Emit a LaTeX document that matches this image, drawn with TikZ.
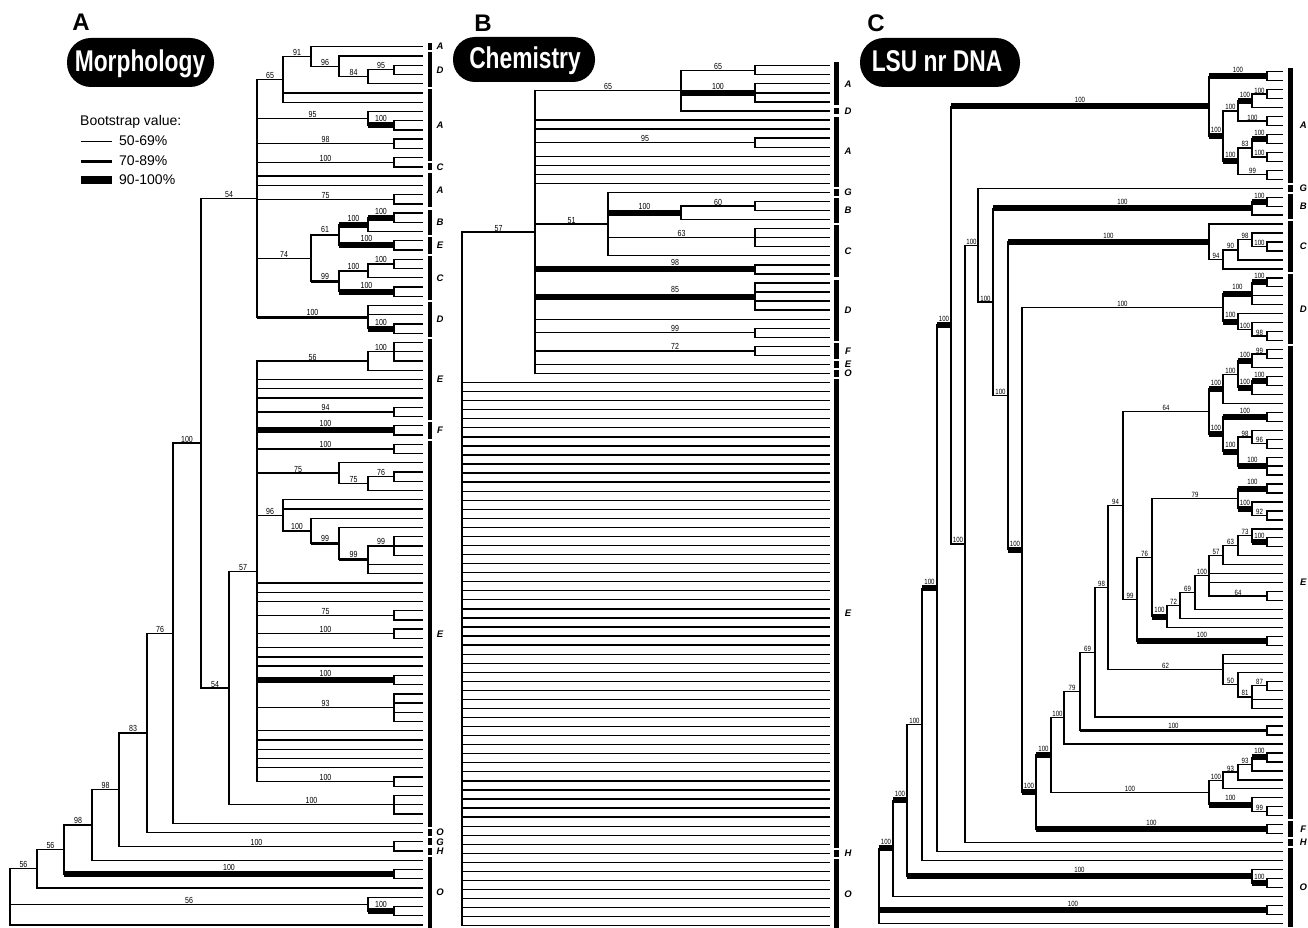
\documentclass[tikz,border=0pt]{standalone}
\usepackage{fontspec}
\setmainfont{Liberation Sans}
\newfontfamily\numfont[FakeStretch=0.8]{Liberation Sans}
\newfontfamily\titlefont[FakeStretch=0.76]{Liberation Sans}
\newcommand\labfont{\numfont\fontsize{8.8}{8.8}\selectfont}
\tikzset{
  tl/.style={line width=1.3pt, line cap=rect},
  tm/.style={line width=2.8pt, line cap=butt},
  tk/.style={line width=6pt, line cap=butt},
  lab/.style={anchor=south, inner sep=0pt, font=\labfont},
  glab/.style={inner sep=0pt, font=\fontsize{9.5}{9.5}\selectfont\bfseries\itshape},
  pill/.style={fill=black, rounded corners=22pt}
}
\newcommand\Lbl[6]{\if\relax\detokenize{#1}\relax\node[lab,yshift=#6] at ({(#2+#3)/2},#4) {#5};\else\node[lab,yshift=#6] at (#1,#4) {#5};\fi}
\newcommand\Hb[5][]{\draw[tl] (#2,#4) -- (#3,#4);\Lbl{#1}{#2}{#3}{#4}{#5}{0.7pt}}
\newcommand\Hbm[5][]{\draw[tm] (#2,#4) -- (#3,#4);\Lbl{#1}{#2}{#3}{#4}{#5}{1.8pt}}
\newcommand\Hbk[5][]{\draw[tk] (#2,#4) -- (#3,#4);\Lbl{#1}{#2}{#3}{#4}{#5}{3.3pt}}
\newcommand\Vb[3]{\draw[tl] (#1,#2) -- (#1,#3);}
\newcommand\Lf[2]{\draw[tl] (#1,#2) -- (\XE,#2);}
\newcommand\Lfs[3]{\foreach \k in {#2,...,#3} {\Lf{#1}{\k}}}
\newcommand\Ch[3]{\draw[tl] (\XE,#2) -- (#1,#2) -- (#1,#3) -- (\XE,#3);}
\newcommand\Grp[4]{\fill ({\GX},{#1-0.38}) rectangle ({\GX+4.8},{#2+0.38});\node[glab] at ({\GX+#4},{(#1+#2)/2}) {#3};}
\begin{document}
\begin{tikzpicture}[x=1pt,y=-1pt]
\fill[white] (0,0) rectangle (1308,928);
\useasboundingbox (0,0) rectangle (1308,928);
% ---------- headers ----------
\node[font=\fontsize{24}{24}\selectfont\bfseries] at (81,22) {A};
\node[font=\fontsize{24}{24}\selectfont\bfseries] at (483,23) {B};
\node[font=\fontsize{24}{24}\selectfont\bfseries] at (876,23) {C};
\fill[pill,rounded corners=24pt] (67,38) rectangle (214,87);
\node[anchor=base,text=white,font=\titlefont\fontsize{30}{30}\selectfont\bfseries] at (140,71.5) {Morphology};
\fill[pill] (453,37) rectangle (595,82);
\node[anchor=base,text=white,font=\titlefont\fontsize{30}{30}\selectfont\bfseries] at (525,68.5) {Chemistry};
\fill[pill,rounded corners=24pt] (860,38) rectangle (1020,87);
\node[anchor=base,text=white,font=\titlefont\fontsize{30}{30}\selectfont\bfseries] at (937,71.5) {LSU nr DNA};
% legend
\node[anchor=base west,inner sep=0pt,font=\fontsize{14}{14}\selectfont] at (80,126) {Bootstrap value:};
\draw[line width=1.6pt] (80.5,141.5) -- (111.5,141.5);
\draw[line width=3pt] (80.5,161.5) -- (111.5,161.5);
\draw[line width=8pt] (80.5,180.5) -- (111.5,180.5);
\node[anchor=base west,inner sep=0pt,font=\fontsize{14}{14}\selectfont] at (119,145.5) {50-69\%};
\node[anchor=base west,inner sep=0pt,font=\fontsize{14}{14}\selectfont] at (119,165.5) {70-89\%};
\node[anchor=base west,inner sep=0pt,font=\fontsize{14}{14}\selectfont] at (119,185) {90-100\%};
% ================= PANEL A =================
\begin{scope}[yshift=-46.7pt, y=-9.245pt]
\def\XE{422}
\Vb{10}{88.92}{95} \Lf{10}{95}
\Hb{10}{37}{88.92}{56}
\Hb{10}{368}{92.75}{56}
\Vb{368}{92}{93.5} \Lf{368}{92}
\Hbk{368}{394}{93.5}{100} \Ch{394}{93}{94}
\Vb{37}{86.84}{91} \Lf{37}{91}
\Hb{37}{64}{86.84}{56}
\Vb{64}{84.18}{89.5}
\Hb{64}{92}{84.18}{98}
\Hbk{64}{394}{89.5}{100} \Ch{394}{89}{90}
\Vb{92}{80.36}{88} \Lf{92}{88}
\Hb{92}{119}{80.36}{98}
\Vb{119}{74.22}{86.5}
\Hb{119}{147}{74.22}{83}
\Hb{119}{394}{86.5}{100} \Ch{394}{86}{87}
\Vb{147}{63.44}{85} \Lf{147}{85}
\Hb{147}{173}{63.44}{76}
\Vb{173}{42.88}{84} \Lf{173}{84}
\Hb{173}{201}{42.88}{100}
\Vb{201}{16.39}{69.375}
\Hb{201}{257}{16.39}{54}
\Hb{201}{229}{69.375}{54}
\Vb{229}{56.75}{82}
\Hb{229}{257}{56.75}{57}
\Hb{229}{394}{82}{100} \Vb{394}{81}{83} \Lfs{394}{81}{83}
% top clade
\Vb{257}{3.53}{29.25}
\Hb{257}{283}{3.53}{65}
\Vb{283}{1.0625}{6} \Lf{283}{5} \Lf{283}{6}
\Hb{283}{311}{1.0625}{91}
\Vb{311}{0}{2.125} \Lf{311}{0}
\Hb{311}{339}{2.125}{96}
\Vb{339}{1}{3.25} \Lf{339}{1}
\Hb{339}{368}{3.25}{84}
\Vb{368}{2.5}{4} \Lf{368}{4}
\Hb{368}{394}{2.5}{95} \Ch{394}{2}{3}
\Hb{257}{368}{7.75}{95}
\Vb{368}{7}{8.5} \Lf{368}{7}
\Hbk{368}{394}{8.5}{100} \Ch{394}{8}{9}
\Hb{257}{394}{10.5}{98} \Ch{394}{10}{11}
\Hb{257}{394}{12.5}{100} \Ch{394}{12}{13}
\Lf{257}{14} \Lf{257}{15}
\Hb{257}{394}{16.5}{75} \Ch{394}{16}{17}
\Hb{257}{311}{22.875}{74}
\Vb{311}{20.375}{25.375}
\Hbm{311}{339}{20.375}{61}
\Vb{339}{19.25}{21.5}
\Hbk{339}{368}{19.25}{100}
\Vb{368}{18.5}{20} \Lf{368}{20}
\Hbk{368}{394}{18.5}{100} \Ch{394}{18}{19}
\Hbk{339}{394}{21.5}{100} \Ch{394}{21}{22}
\Hbm{311}{339}{25.375}{99}
\Vb{339}{24.25}{26.5}
\Hb{339}{368}{24.25}{100}
\Vb{368}{23.5}{25} \Lf{368}{25}
\Hb{368}{394}{23.5}{100} \Ch{394}{23}{24}
\Hbk{339}{394}{26.5}{100} \Ch{394}{26}{27}
\Hbm{257}{368}{29.25}{100}
\Vb{368}{28}{30.5} \Lf{368}{28} \Lf{368}{29}
\Hbk{368}{394}{30.5}{100} \Ch{394}{30}{31}
% E clade
\Vb{257}{34}{79.5}
\Hb{257}{368}{34}{56}
\Vb{368}{33}{35} \Lf{368}{35}
\Hb{368}{394}{33}{100} \Vb{394}{32}{34} \Lfs{394}{32}{34}
\Lfs{257}{36}{38}
\Hb{257}{394}{39.5}{94} \Ch{394}{39}{40}
\Hbk{257}{394}{41.5}{100} \Ch{394}{41}{42}
\Hb{257}{394}{43.5}{100} \Ch{394}{43}{44}
\Hb{257}{339}{46.125}{75}
\Vb{339}{45}{47.25} \Lf{339}{45}
\Hb{339}{368}{47.25}{75}
\Vb{368}{46.5}{48} \Lf{368}{48}
\Hb{368}{394}{46.5}{76} \Ch{394}{46}{47}
\Hb{257}{283}{50.69}{96}
\Vb{283}{49}{52.375} \Lf{283}{49} \Lf{283}{50}
\Hb{283}{311}{52.375}{100}
\Vb{311}{51}{53.75} \Lf{311}{51}
\Hbm{311}{339}{53.75}{99}
\Vb{339}{52}{55.5} \Lf{339}{52}
\Hbm{339}{368}{55.5}{99}
\Vb{368}{54}{57} \Lf{368}{56} \Lf{368}{57}
\Hb{368}{394}{54}{99} \Vb{394}{53}{55} \Lfs{394}{53}{55}
\Lfs{257}{58}{60}
\Hb{257}{394}{61.5}{75} \Ch{394}{61}{62}
\Hb{257}{394}{63.5}{100} \Ch{394}{63}{64}
\Lfs{257}{65}{67}
\Hbk{257}{394}{68.5}{100} \Ch{394}{68}{69}
\Hb{257}{394}{71.5}{93} \Vb{394}{70}{73} \Lfs{394}{70}{73}
\Lfs{257}{74}{78}
\Hb{257}{394}{79.5}{100} \Ch{394}{79}{80}
% groups
\def\GX{427.5}
\Grp{0}{0}{A}{12.5} \Grp{1}{4}{D}{12.5} \Grp{5}{12}{A}{12.5} \Grp{13}{13}{C}{12.5}
\Grp{14}{17}{A}{12.5} \Grp{18}{20}{B}{12.5} \Grp{21}{22}{E}{12.5} \Grp{23}{27}{C}{12.5}
\Grp{28}{31}{D}{12.5} \Grp{32}{40}{E}{12.5} \Grp{41}{42}{F}{12.5} \Grp{43}{84}{E}{12.5}
\Grp{85}{85}{O}{12.5} \Grp{86}{86}{G}{12.5} \Grp{87}{87}{H}{12.5} \Grp{88}{95}{O}{12.5}
\end{scope}
% ================= PANEL B =================
\begin{scope}[yshift=-65.7pt, y=-9.053pt]
\def\XE{829}
\Vb{462}{18.375}{95} \Lfs{462}{35}{95}
\Hb{462}{535}{18.375}{57}
\Vb{535}{2.75}{34}
\Hb{535}{681}{2.75}{65}
\Vb{681}{0.5}{5} \Lf{681}{5}
\Hb{681}{755}{0.5}{65} \Ch{755}{0}{1}
\Hbk{681}{755}{3}{100} \Vb{755}{2}{4} \Lfs{755}{2}{4}
\Lf{535}{6} \Lf{535}{7}
\Hb{535}{755}{8.5}{95} \Ch{755}{8}{9}
\Lfs{535}{10}{13}
\Hb{535}{608}{17.5}{51}
\Vb{608}{14}{21} \Lf{608}{14} \Lf{608}{21}
\Hbk{608}{681}{16.25}{100}
\Vb{681}{15.5}{17} \Lf{681}{17}
\Hb{681}{755}{15.5}{60} \Ch{755}{15}{16}
\Hb{608}{755}{19}{63} \Vb{755}{18}{20} \Lfs{755}{18}{20}
\Hbk[675]{535}{755}{22.5}{98} \Ch{755}{22}{23}
\Hbk[675]{535}{755}{25.5}{85} \Vb{755}{24}{27} \Lfs{755}{24}{27}
\Lf{535}{28}
\Hb[675]{535}{755}{29.5}{99} \Ch{755}{29}{30}
\Hb[675]{535}{755}{31.5}{72} \Ch{755}{31}{32}
\Lf{535}{33} \Lf{535}{34}
\def\GX{834}
\Grp{0}{4}{A}{14} \Grp{5}{5}{D}{14} \Grp{6}{13}{A}{14} \Grp{14}{14}{G}{14}
\Grp{15}{17}{B}{14} \Grp{18}{23}{C}{14} \Grp{24}{30}{D}{14} \Grp{31}{32}{F}{14}
\Grp{33}{33}{E}{14} \Grp{34}{34}{O}{14} \Grp{35}{86}{E}{14} \Grp{87}{87}{H}{14} \Grp{88}{95}{O}{14}
\end{scope}
% ================= PANEL C =================
\begin{scope}[yshift=-71.7pt, y=-8.964pt]
\def\XE{1282}
\def\labfont{\numfont\fontsize{7.6}{7.6}\selectfont}
\Vb{879}{86.64}{95} \Lf{879}{95}
\Hbk{879}{893}{86.64}{100}
\Hbk{879}{1267}{93.5}{100} \Ch{1267}{93}{94}
\Vb{893}{81.28}{92} \Lf{893}{92}
\Hbk{893}{907}{81.28}{100}
\Vb{907}{72.815}{89.75}
\Hb{907}{922}{72.815}{100}
\Hbk{907}{1252}{89.75}{100}
\Vb{1252}{89}{90.5} \Lf{1252}{89}
\Hbk{1252}{1267}{90.5}{100} \Ch{1267}{90}{91}
\Vb{922}{57.63}{88} \Lf{922}{88}
\Hbk{922}{937}{57.63}{100}
\Vb{937}{28.26}{87} \Lf{937}{87}
\Hbk{937}{951}{28.26}{100}
\Vb{951}{3.844}{52.676}
\Hbk{951}{1209}{3.844}{100}
\Hb{951}{965}{52.676}{100}
\Vb{965}{19.351}{86} \Lf{965}{86}
\Hb{965}{978}{19.351}{100}
\Vb{978}{13}{25.702} \Lf{978}{13}
\Hb{978}{993}{25.702}{100}
\Vb{993}{15.25}{36.154}
\Hbk{993}{1252}{15.25}{100}
\Vb{1252}{14.5}{16} \Lf{1252}{16}
\Hbk{1252}{1267}{14.5}{100} \Ch{1267}{14}{15}
\Hb{993}{1008}{36.154}{100}
\Vb{1008}{18.969}{53.34}
\Hbk{1008}{1209}{18.969}{100}
% C clade
\Vb{1209}{17}{20.9375} \Lf{1209}{17}
\Hb{1209}{1223}{20.9375}{94}
\Vb{1223}{19.875}{22} \Lf{1223}{22}
\Hb{1223}{1238}{19.875}{90}
\Vb{1238}{18.75}{21} \Lf{1238}{21}
\Hb{1238}{1252}{18.75}{98}
\Vb{1252}{18}{19.5} \Lf{1252}{18}
\Hb{1252}{1267}{19.5}{100} \Ch{1267}{19}{20}
\Hbk{1008}{1022}{53.34}{100}
\Vb{1022}{26.3125}{80.368}
\Hb{1022}{1223}{26.3125}{100}
% D clade
\Vb{1223}{24.75}{27.875}
\Hbk{1223}{1252}{24.75}{100}
\Vb{1252}{23.5}{26} \Lf{1252}{25} \Lf{1252}{26}
\Hbk{1252}{1267}{23.5}{100} \Ch{1267}{23}{24}
\Hbk{1223}{1238}{27.875}{100}
\Vb{1238}{27}{28.75} \Lf{1238}{27}
\Hb{1238}{1252}{28.75}{100}
\Vb{1252}{28}{29.5} \Lf{1252}{28}
\Hb{1252}{1267}{29.5}{98} \Ch{1267}{29}{30}
\Hbk{1022}{1036}{80.368}{100}
\Vb{1036}{76.236}{84.5}
\Hbk{1036}{1267}{84.5}{100} \Ch{1267}{84}{85}
\Hbk{1036}{1051}{76.236}{100}
\Vb{1051}{72.066}{80.406}
\Hb{1051}{1064}{72.066}{100}
\Hb{1051}{1209}{80.406}{100}
% clade 1209
\Vb{1209}{79.0625}{81.75}
\Hb{1209}{1223}{79.0625}{100}
\Vb{1223}{78.125}{80} \Lf{1223}{80}
\Hb{1223}{1238}{78.125}{93}
\Vb{1238}{77.25}{79} \Lf{1238}{79}
\Hb{1238}{1252}{77.25}{93}
\Vb{1252}{76.5}{78} \Lf{1252}{78}
\Hbk{1252}{1267}{76.5}{100} \Ch{1267}{76}{77}
\Hbk{1209}{1252}{81.75}{100}
\Vb{1252}{81}{82.5} \Lf{1252}{81}
\Hb{1252}{1267}{82.5}{99} \Ch{1267}{82}{83}
\Vb{1064}{69.133}{75} \Lf{1064}{75}
\Hb{1064}{1080}{69.133}{79}
\Vb{1080}{64.766}{73.5}
\Hb{1080}{1095}{64.766}{69}
\Hbm{1080}{1267}{73.5}{100} \Ch{1267}{73}{74}
\Vb{1095}{57.533}{72} \Lf{1095}{72}
\Hb{1095}{1108}{57.533}{98}
\Vb{1108}{48.378}{66.6875}
\Hb{1108}{1123}{48.378}{94}
\Hb{1108}{1223}{66.6875}{62}
% clade 62
\Vb{1223}{65}{68.375} \Lf{1223}{65} \Lf{1223}{66}
\Hb{1223}{1238}{68.375}{50}
\Vb{1238}{67}{69.75} \Lf{1238}{67}
\Hb{1238}{1252}{69.75}{81}
\Vb{1252}{68.5}{71} \Lf{1252}{70} \Lf{1252}{71}
\Hb{1252}{1267}{68.5}{87} \Ch{1267}{68}{69}
\Vb{1123}{37.906}{58.85}
\Hb{1123}{1209}{37.906}{64}
\Hb{1123}{1137}{58.85}{99}
% clade 64
\Vb{1209}{35.375}{40.4375}
\Hbk{1209}{1223}{35.375}{100}
\Vb{1223}{33.75}{37} \Lf{1223}{37}
\Hb{1223}{1238}{33.75}{100}
\Vb{1238}{32.25}{35.25}
\Hbk{1238}{1252}{32.25}{100}
\Vb{1252}{31.5}{33} \Lf{1252}{33}
\Hb{1252}{1267}{31.5}{99} \Ch{1267}{31}{32}
\Hbk{1238}{1252}{35.25}{100}
\Vb{1252}{34.5}{36} \Lf{1252}{36}
\Hbk{1252}{1267}{34.5}{100} \Ch{1267}{34}{35}
\Hbk{1209}{1223}{40.4375}{100}
\Vb{1223}{38.5}{42.375}
\Hbk{1223}{1267}{38.5}{100} \Ch{1267}{38}{39}
\Hbk{1223}{1238}{42.375}{100}
\Vb{1238}{40.75}{44}
\Hb{1238}{1252}{40.75}{98}
\Vb{1252}{40}{41.5} \Lf{1252}{40}
\Hb{1252}{1267}{41.5}{96} \Ch{1267}{41}{42}
\Hbk{1238}{1267}{44}{100} \Vb{1267}{43}{45} \Lfs{1267}{43}{45}
% N18
\Vb{1137}{54.201}{63.5}
\Hb{1137}{1152}{54.201}{76}
\Hbk{1137}{1267}{63.5}{100} \Ch{1267}{63}{64}
\Vb{1152}{47.625}{60.777}
\Hb{1152}{1238}{47.625}{79}
\Vb{1238}{46.5}{48.75}
\Hbk{1238}{1267}{46.5}{100} \Ch{1267}{46}{47}
\Hbk{1238}{1252}{48.75}{100}
\Vb{1252}{48}{49.5} \Lf{1252}{48}
\Hb{1252}{1267}{49.5}{92} \Ch{1267}{49}{50}
\Hbk{1152}{1167}{60.777}{100}
\Vb{1167}{59.555}{62} \Lf{1167}{62}
\Hb{1167}{1180}{59.555}{72}
\Vb{1180}{58.109}{61} \Lf{1180}{61}
\Hb{1180}{1195}{58.109}{69}
\Vb{1195}{56.219}{60} \Lf{1195}{60}
\Hb{1195}{1209}{56.219}{100}
\Vb{1209}{53.9375}{58.5} \Lf{1209}{56} \Lf{1209}{57}
\Hb{1209}{1267}{58.5}{64} \Ch{1267}{58}{59}
\Hb{1209}{1223}{53.9375}{57}
\Vb{1223}{52.875}{55} \Lf{1223}{55}
\Hb{1223}{1238}{52.875}{63}
\Vb{1238}{51.75}{54} \Lf{1238}{54}
\Hb{1238}{1252}{51.75}{73}
\Vb{1252}{51}{52.5} \Lf{1252}{51}
\Hbk{1252}{1267}{52.5}{100} \Ch{1267}{52}{53}
% A clade
\Vb{1209}{0.5}{7.1875}
\Hbk{1209}{1267}{0.5}{100} \Ch{1267}{0}{1}
\Hbk{1209}{1223}{7.1875}{100}
\Vb{1223}{4.375}{10}
\Hb{1223}{1238}{4.375}{100}
\Vb{1238}{3.25}{5.5}
\Hbk{1238}{1252}{3.25}{100}
\Vb{1252}{2.5}{4} \Lf{1252}{4}
\Hb{1252}{1267}{2.5}{100} \Ch{1267}{2}{3}
\Hb{1238}{1267}{5.5}{100} \Ch{1267}{5}{6}
\Hbk{1223}{1238}{10}{100}
\Vb{1238}{8.5}{11.5}
\Hb{1238}{1252}{8.5}{83}
\Vb{1252}{7.5}{9.5}
\Hbk{1252}{1267}{7.5}{100} \Ch{1267}{7}{8}
\Hb{1252}{1267}{9.5}{100} \Ch{1267}{9}{10}
\Hb{1238}{1267}{11.5}{99} \Ch{1267}{11}{12}
\def\GX{1288.3}
\Grp{0}{12}{A}{15} \Grp{13}{13}{G}{15} \Grp{14}{16}{B}{15} \Grp{17}{22}{C}{15}
\Grp{23}{30}{D}{15} \Grp{31}{83}{E}{15} \Grp{84}{85}{F}{15} \Grp{86}{86}{H}{15} \Grp{87}{95}{O}{15}
\end{scope}
\end{tikzpicture}
\end{document}
